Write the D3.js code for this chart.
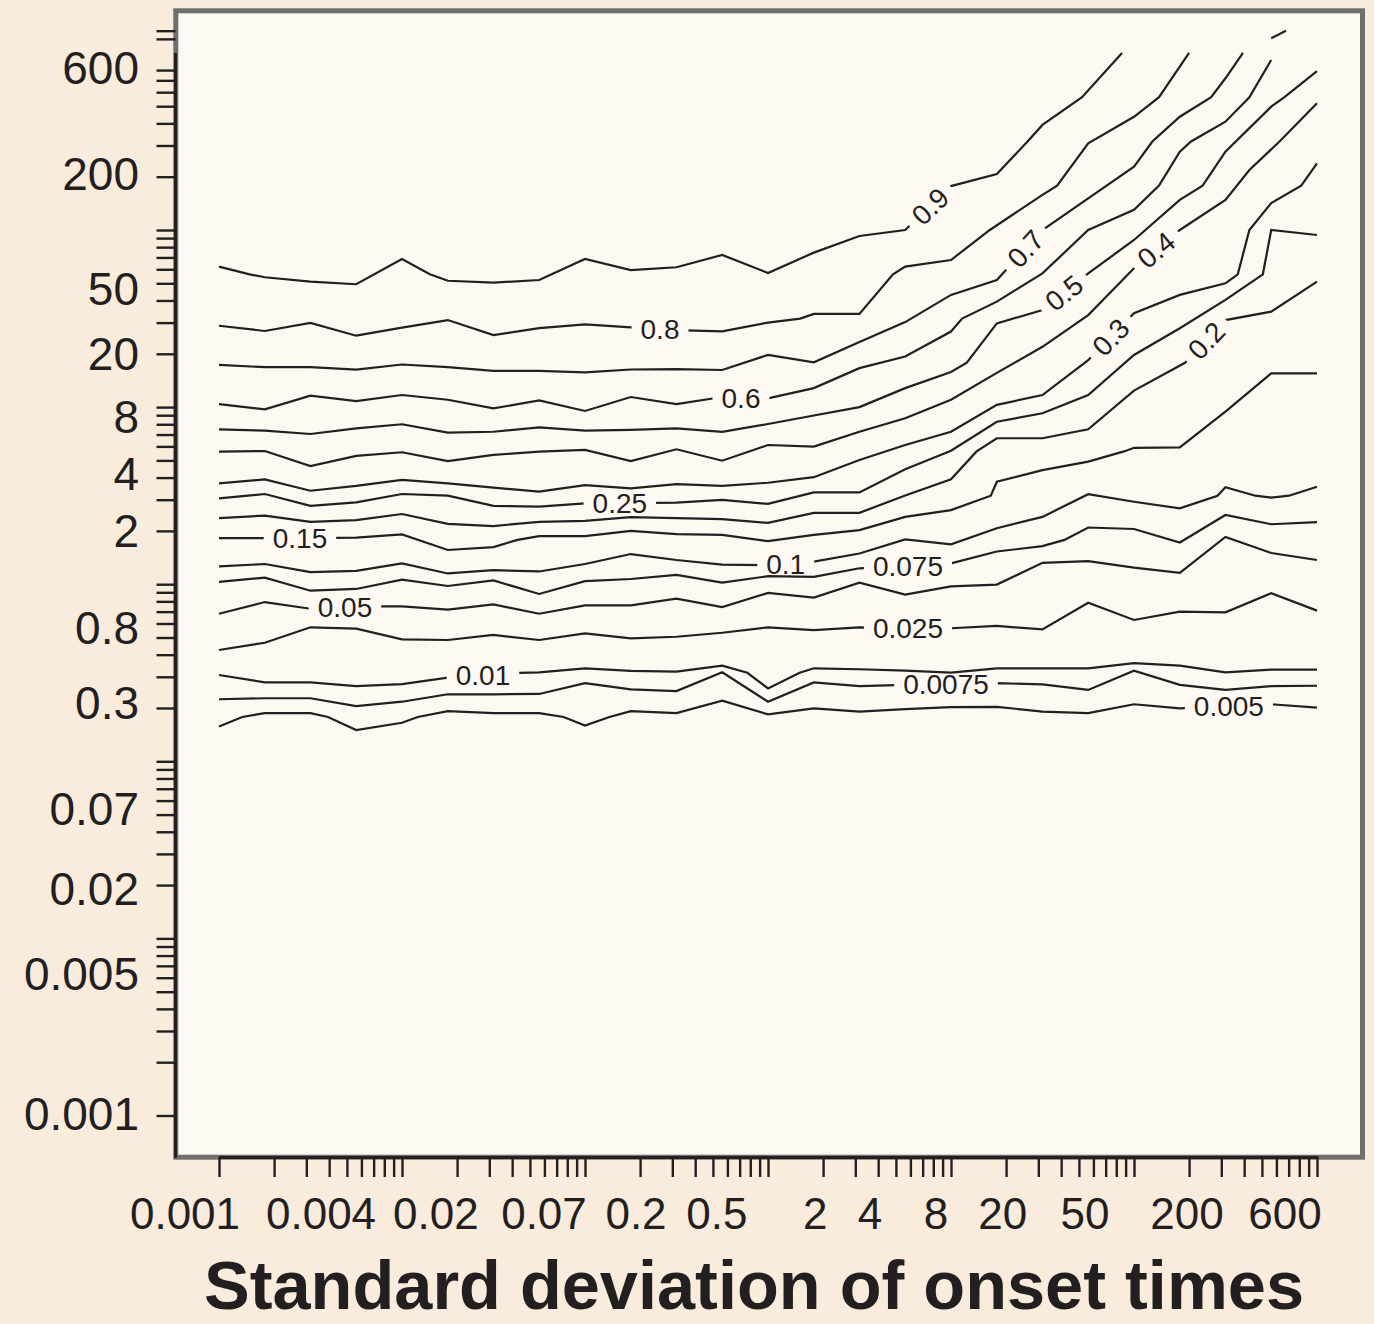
<!DOCTYPE html>
<html><head><meta charset="utf-8">
<script src="https://cdn.jsdelivr.net/npm/d3@7"></script>
<style>
html,body{margin:0;padding:0;background:#FAECDD;}
svg{display:block;}
</style></head><body>
<svg id="chart" width="1374" height="1324"></svg>
<script>
// ---------- axis tick labels (text and the value they sit at) ----------
const xTickLabels = ["0.001","0.004","0.02","0.07","0.2","0.5","2","4","8","20","50","200","600"];
const xTickLabelAt = [0.000652,0.00361,0.0153,0.0597,0.190,0.526,1.81,3.61,8.28,19.2,54.0,195,668];
const yTickLabels = ["600","200","50","20","8","4","2","0.8","0.3","0.07","0.02","0.005","0.001"];
const yTickLabelAt = [822,208,47,20,8.9,4.2,2.0,0.57,0.215,0.054,0.0191,0.0063,0.00103];
const extraYTicks = [1200,1335];

// ---------- contour levels, label positions (x value) ----------
const levels = ["0.9","0.8","0.7","0.6","0.5","0.4","0.3","0.25","0.2","0.15","0.1","0.075","0.05","0.025","0.01","0.0075","0.005"];
const labelX = [7.68,0.257,25.5,0.712,41.4,132,74.6,0.155,248,0.00277,1.25,5.82,0.00488,5.82,0.0277,9.39,330];

// ---------- contour lines: [sd of onset times, y value] ----------
const line09 = [[0.001,62.1],[0.00147,56.2],[0.00178,54.1],[0.00316,51.1],[0.00562,49.4],[0.01,68.6],[0.0142,56.2],[0.0178,51.7],[0.0316,50.4],[0.0562,52.2],[0.1,68.6],[0.178,59.4],[0.316,61.6],[0.562,72.3],[1,57.2],[1.78,74.5],[3.16,92.5],[5.62,100],[10,177],[17.8,207],[26.2,316],[31.6,392],[52.0,562],[86.0,1000]];
const line08 = [[0.001,28.8],[0.00178,26.9],[0.00316,29.9],[0.00562,25.3],[0.01,28.1],[0.0178,31.0],[0.0316,25.5],[0.0562,27.9],[0.1,29.3],[0.178,28.2],[0.316,27.2],[0.562,26.8],[1,30.0],[1.50,31.6],[1.78,33.6],[3.16,33.6],[4.82,56.2],[5.62,62.1],[10,67.7],[16.3,100],[31.6,158],[38.0,178],[56.2,309],[100,436],[137,562],[200,1000]];
const line07 = [[0.001,17.3],[0.00178,16.8],[0.00316,16.8],[0.00562,16.3],[0.01,17.4],[0.0178,16.8],[0.0316,16.0],[0.0562,16.0],[0.1,15.7],[0.178,16.3],[0.316,16.4],[0.562,16.2],[1,19.7],[1.78,17.9],[3.16,23.3],[5.62,30.2],[10,43.0],[17.8,52.2],[31.6,100],[56.2,151],[100,228],[126,316],[178,436],[264,562],[316,719],[394,1000]];
const line06 = [[0.001,10.4],[0.00178,9.72],[0.00316,11.6],[0.00562,10.8],[0.01,11.7],[0.0178,11.0],[0.0316,9.84],[0.0562,10.9],[0.1,9.51],[0.178,11.4],[0.316,10.4],[0.562,11.4],[1,11.2],[1.78,12.8],[3.16,16.6],[5.62,19.3],[10,26.7],[11.5,31.6],[17.8,39.4],[31.6,56.9],[56.2,100],[100,130],[137,178],[178,277],[205,316],[316,409],[427,562],[562,912]];
const line06b = [[562,1209],[677,1335]];
const line05 = [[0.001,7.49],[0.00178,7.36],[0.00316,7.05],[0.00562,7.59],[0.01,8.00],[0.0178,7.17],[0.0316,7.26],[0.0562,7.69],[0.1,7.36],[0.178,7.43],[0.316,7.59],[0.562,7.24],[1,8.03],[1.78,8.97],[3.16,10.0],[5.62,12.8],[10,15.8],[12.2,17.8],[17.8,29.7],[31.6,35.3],[56.2,56.9],[100,87.8],[178,148],[237,178],[316,277],[562,497],[664,562],[1000,790]];
const line04 = [[0.001,5.60],[0.00178,5.65],[0.00316,4.65],[0.00562,5.30],[0.01,5.56],[0.0178,4.96],[0.0316,5.37],[0.0562,5.60],[0.1,5.73],[0.178,4.96],[0.316,5.78],[0.562,4.98],[1,6.11],[1.78,5.98],[3.16,7.26],[5.62,8.65],[10,11.0],[17.8,15.6],[31.6,21.9],[56.2,33.1],[100,60.8],[178,100],[316,148],[427,218],[624,316],[1000,519]];
const line03 = [[0.001,3.71],[0.00178,3.91],[0.00316,3.37],[0.00562,3.59],[0.01,3.88],[0.0178,3.71],[0.0316,3.51],[0.0562,3.33],[0.1,3.63],[0.178,3.48],[0.316,3.67],[0.562,3.59],[1,3.74],[1.78,4.02],[3.16,5.03],[5.62,6.11],[10,7.26],[17.8,10.3],[31.6,11.7],[56.2,18.4],[100,33.9],[178,43.0],[316,50.0],[369,56.2],[427,100],[562,142],[820,178],[1000,238]];
const line025 = [[0.001,3.05],[0.00178,3.23],[0.00316,2.77],[0.00562,2.90],[0.01,3.23],[0.0178,3.16],[0.0316,2.77],[0.0562,2.74],[0.1,2.86],[0.178,2.87],[0.316,2.89],[0.562,2.99],[1,2.84],[1.78,3.30],[3.16,3.30],[5.62,4.46],[10,5.67],[17.8,8.27],[31.6,9.23],[56.2,11.7],[100,19.7],[178,27.9],[316,40.3],[506,56.2],[562,100],[1000,93.7]];
const line02 = [[0.001,2.36],[0.00178,2.44],[0.00316,2.25],[0.00562,2.30],[0.01,2.49],[0.0178,2.19],[0.0316,2.13],[0.0562,2.25],[0.1,2.28],[0.178,2.39],[0.316,2.36],[0.562,2.33],[1,2.22],[1.78,2.53],[3.16,2.53],[5.62,3.17],[10,3.91],[13.8,5.62],[17.8,6.67],[31.6,6.67],[56.2,7.49],[100,12.4],[190,17.8],[316,31.0],[562,34.6],[1000,51.1]];
const line015 = [[0.001,1.82],[0.00178,1.82],[0.00316,1.82],[0.00562,1.83],[0.01,1.91],[0.0178,1.56],[0.0316,1.62],[0.0428,1.78],[0.0562,1.87],[0.1,1.87],[0.178,2.00],[0.316,1.92],[0.562,1.90],[1,1.75],[1.78,1.90],[3.16,2.02],[5.62,2.40],[10,2.62],[16.5,3.16],[17.8,3.79],[31.6,4.41],[56.2,4.92],[88.2,5.62],[100,5.89],[178,5.92],[316,9.42],[562,15.5],[1000,15.5]];
const line01 = [[0.001,1.26],[0.00178,1.30],[0.00316,1.17],[0.00562,1.19],[0.01,1.31],[0.0178,1.15],[0.0316,1.20],[0.0562,1.18],[0.1,1.30],[0.178,1.48],[0.316,1.37],[0.562,1.29],[1,1.28],[1.78,1.34],[3.16,1.49],[5.62,1.79],[10,1.68],[17.8,2.07],[31.6,2.40],[56.2,3.22],[100,2.92],[178,2.68],[286,3.16],[316,3.53],[460,3.16],[562,3.08],[703,3.16],[1000,3.55]];
const line0075 = [[0.001,1.03],[0.00178,1.09],[0.00316,0.919],[0.00562,0.940],[0.01,1.06],[0.0178,0.977],[0.0316,1.05],[0.0562,0.881],[0.1,1.04],[0.178,1.07],[0.316,1.13],[0.562,1.02],[1,1.11],[1.78,1.10],[3.16,1.23],[5.62,1.27],[10,1.31],[17.8,1.53],[31.6,1.64],[41.7,1.78],[56.2,2.09],[100,2.05],[178,1.72],[316,2.46],[562,2.18],[1000,2.24]];
const line005 = [[0.001,0.681],[0.00178,0.793],[0.00316,0.727],[0.00562,0.750],[0.01,0.749],[0.0178,0.718],[0.0316,0.769],[0.0562,0.681],[0.1,0.759],[0.178,0.759],[0.316,0.828],[0.562,0.743],[1,0.892],[1.78,0.840],[3.16,1.02],[5.62,0.874],[10,0.973],[17.8,0.995],[31.6,1.32],[56.2,1.35],[100,1.24],[178,1.16],[316,1.85],[562,1.50],[1000,1.37]];
const line0025 = [[0.001,0.425],[0.00178,0.467],[0.00316,0.571],[0.00562,0.561],[0.01,0.488],[0.0178,0.484],[0.0316,0.517],[0.0562,0.484],[0.1,0.528],[0.178,0.495],[0.316,0.505],[0.562,0.532],[1,0.571],[1.78,0.551],[3.16,0.571],[5.62,0.565],[10,0.564],[17.8,0.581],[31.6,0.556],[56.2,0.786],[100,0.628],[178,0.700],[316,0.694],[562,0.889],[1000,0.709]];
const line001 = [[0.001,0.307],[0.00178,0.279],[0.00316,0.279],[0.00562,0.266],[0.01,0.273],[0.0178,0.297],[0.0439,0.316],[0.0562,0.318],[0.1,0.335],[0.178,0.324],[0.316,0.321],[0.562,0.347],[0.771,0.316],[1,0.258],[1.49,0.316],[1.78,0.335],[3.16,0.331],[5.62,0.325],[10,0.317],[17.8,0.335],[31.6,0.335],[56.2,0.335],[100,0.358],[178,0.347],[316,0.318],[562,0.329],[1000,0.329]];
const line00075 = [[0.001,0.224],[0.00178,0.227],[0.00316,0.227],[0.00562,0.205],[0.01,0.217],[0.0178,0.239],[0.0316,0.239],[0.0562,0.240],[0.1,0.276],[0.178,0.255],[0.316,0.249],[0.562,0.318],[1,0.217],[1.78,0.279],[3.16,0.266],[5.62,0.270],[10,0.273],[17.8,0.276],[31.6,0.272],[56.2,0.253],[100,0.325],[178,0.270],[316,0.253],[562,0.266],[1000,0.267]];
const line0005 = [[0.001,0.157],[0.00134,0.178],[0.00178,0.187],[0.00316,0.187],[0.00394,0.178],[0.00562,0.150],[0.01,0.165],[0.0122,0.178],[0.0178,0.192],[0.0316,0.187],[0.0562,0.187],[0.0764,0.178],[0.1,0.159],[0.136,0.178],[0.178,0.192],[0.316,0.187],[0.562,0.220],[1,0.184],[1.78,0.199],[3.16,0.191],[5.62,0.197],[10,0.202],[17.8,0.203],[31.6,0.191],[56.2,0.187],[100,0.210],[178,0.199],[316,0.205],[562,0.210],[1000,0.201]];

const contourLines = [line09,line08,line07,line06,line05,line04,line03,line025,line02,line015,line01,line0075,line005,line0025,line001,line00075,line0005];

// ---------- drawing ----------
const INK = "#231f20";
const FONT = "'Liberation Sans', Arial, Helvetica, sans-serif";
const svg = d3.select("#chart");
svg.append("rect").attr("width",1374).attr("height",1324).attr("fill","#FAECDD");
svg.append("rect").attr("x",175.8).attr("y",10.8).attr("width",1186.7).attr("height",1146.4)
  .attr("fill","#FDF9F2").attr("stroke","#6e6e6e").attr("stroke-width",5);

const x = d3.scaleLog().domain([0.001,1000]).range([219,1317]);
const y = d3.scaleLog().domain([0.001,1000]).range([1115.5,52.9]);

// y axis
const yTicks = y.ticks().filter(v => v <= 800.5).concat(extraYTicks);
const gY = svg.append("g").attr("transform","translate(175.5,0)")
  .call(d3.axisLeft(y).tickValues(yTicks).tickSize(19).tickFormat(""));
gY.select(".domain").remove();
gY.selectAll(".tick line").attr("stroke",INK).attr("stroke-width",2.4);
svg.append("line").attr("x1",175.5).attr("x2",175.5).attr("y1",y(1000)).attr("y2",1158)
  .attr("stroke",INK).attr("stroke-width",3);

// x axis
const gX = svg.append("g").attr("transform","translate(0,1157)")
  .call(d3.axisBottom(x).tickValues(x.ticks()).tickSize(20).tickFormat(""));
gX.select(".domain").remove();
gX.selectAll(".tick line").attr("stroke",INK).attr("stroke-width",2.4);
svg.append("line").attr("x1",x(0.001)).attr("x2",x(1000)+1).attr("y1",1157.5).attr("y2",1157.5)
  .attr("stroke",INK).attr("stroke-width",3);

// tick labels
xTickLabels.forEach((t,i) => {
  svg.append("text").attr("x",x(xTickLabelAt[i])).attr("y",1228.7).attr("text-anchor","middle")
    .attr("fill",INK).style("font-family",FONT).style("font-size","44px").text(t);
});
yTickLabels.forEach((t,i) => {
  svg.append("text").attr("x",139).attr("y",y(yTickLabelAt[i]) + 0.358*46).attr("text-anchor","end")
    .attr("fill",INK).style("font-family",FONT).style("font-size","46px").text(t);
});

// title
svg.append("text").attr("x",754).attr("y",1309).attr("text-anchor","middle").attr("fill",INK)
  .style("font-family",FONT).style("font-size","68.5px").style("font-weight","bold")
  .text("Standard deviation of onset times");

// contours
const lineGen = d3.line().x(d => x(d[0])).y(d => y(d[1]));
const defs = svg.append("defs");
const gC = svg.append("g");
function yAtPx(pts, px){
  for (let i=0;i<pts.length-1;i++){
    const a=pts[i], b=pts[i+1];
    if (px>=a[0] && px<=b[0]) { const t=(px-a[0])/(b[0]-a[0]||1); return a[1]+t*(b[1]-a[1]); }
  }
  return pts[pts.length-1][1];
}
const LFS = 28;
contourLines.forEach((data,i) => {
  const pts = data.map(d => [x(d[0]), y(d[1])]);
  const px = x(labelX[i]);
  const py = yAtPx(pts, px);
  const p1 = yAtPx(pts, px-15), p2 = yAtPx(pts, px+15);
  let ang = Math.atan2(p2-p1, 30)*180/Math.PI;
  if (Math.abs(ang) < 12) ang = 0;
  const lab = gC.append("text").attr("transform",`translate(${px},${py}) rotate(${ang})`)
    .attr("x",0).attr("y",0.358*LFS).attr("text-anchor","middle").attr("fill",INK)
    .style("font-family",FONT).style("font-size",LFS+"px").text(levels[i]);
  const w = lab.node().getComputedTextLength();
  const m = defs.append("mask").attr("id","m"+i).attr("maskUnits","userSpaceOnUse")
    .attr("x",0).attr("y",0).attr("width",1374).attr("height",1324);
  m.append("rect").attr("x",0).attr("y",0).attr("width",1374).attr("height",1324).attr("fill","white");
  m.append("rect").attr("x",-(w/2+9)).attr("y",-13).attr("width",w+18).attr("height",26)
    .attr("transform",`translate(${px},${py}) rotate(${ang})`).attr("fill","black");
  gC.insert("path","text").attr("d",lineGen(data)).attr("fill","none").attr("stroke",INK)
    .attr("stroke-width",2.2).attr("stroke-linejoin","miter").attr("mask",`url(#m${i})`);
});
gC.append("path").attr("d",lineGen(line06b)).attr("fill","none").attr("stroke",INK).attr("stroke-width",2.2);
</script>
</body></html>
